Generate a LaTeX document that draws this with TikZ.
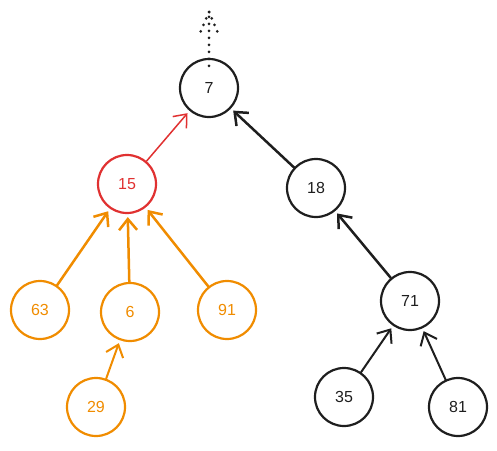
\documentclass[tikz,border=0pt]{standalone}
\usepackage{fontspec}
\setmainfont{Liberation Sans}
\usetikzlibrary{arrows.meta}
\definecolor{ink}{HTML}{1E1E1E}
\definecolor{redc}{HTML}{E03131}
\definecolor{orc}{HTML}{F08C00}
\begin{document}
\begin{tikzpicture}[x=1pt,y=-1pt,
  vtx/.style={circle,draw,line width=2.2pt,minimum size=58pt,inner sep=0pt,font=\fontsize{16}{16}\selectfont},
  blk/.style={vtx,draw=ink,text=ink},
  rd/.style={vtx,draw=redc,text=redc},
  og/.style={vtx,draw=orc,text=orc},
  edge/.style={-{Straight Barb[length=11pt,width=18pt]},line width=2pt,line cap=round,shorten <=0pt,shorten >=3pt},
  dotline/.style={ink,dash pattern=on 0pt off 7pt,line width=3pt,line cap=round}]
\useasboundingbox (0,0) rectangle (497,450);
\node[blk] (n7) at (209,88) {7};
\node[rd] (n15) at (127,184) {15};
\node[blk] (n18) at (316,188) {18};
\node[og] (n63) at (40,310) {63};
\node[og] (n6) at (130,312) {6};
\node[og] (n91) at (227,310) {91};
\node[og] (n29) at (96,407) {29};
\node[blk] (n71) at (410,301) {71};
\node[blk] (n35) at (344,397) {35};
\node[blk] (n81) at (458,407) {81};
\coordinate (top) at (209,12);
\coordinate (bl) at (200,33);
\coordinate (br) at (218,33);
\draw[dotline] ([yshift=-8pt]n7.north) -- (top);
\draw[dotline] (top) -- (bl);
\draw[dotline] (top) -- (br);
\draw[edge,redc,line width=1.5pt] (n15) -- (n7);
\draw[edge,ink,line width=2.5pt] (n18) -- (n7);
\draw[edge,orc,line width=2.5pt] (n63) -- (n15);
\draw[edge,orc,line width=2.5pt] (n6) -- (n15);
\draw[edge,orc,line width=2.5pt] (n91) -- (n15);
\draw[edge,orc] (n29) -- (n6);
\draw[edge,ink,line width=2.5pt] (n71) -- (n18);
\draw[edge,ink] (n35) -- (n71);
\draw[edge,ink] (n81) -- (n71);
\end{tikzpicture}
\end{document}
